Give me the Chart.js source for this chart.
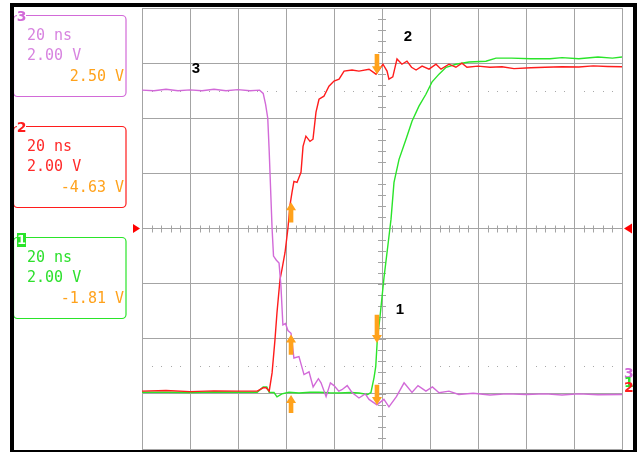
<!DOCTYPE html>
<html>
<head>
<meta charset="utf-8">
<script src="https://cdn.jsdelivr.net/npm/chart.js@4.4.0/dist/chart.umd.min.js"></script>
<style>
html,body{margin:0;padding:0;background:#fff;}
#wrap{width:637px;height:452px;position:relative;}
</style>
</head>
<body>
<div id="wrap"><canvas id="c"></canvas></div>
<script>
// Time axis (ns) and voltage (V, screen-referenced, 2 V/div)
const ch3Time = [-100,-95,-90,-85,-80,-75,-70,-65,-60,-55,-51,-49.5,-48.5,-47.6,-47,-46.4,-45.8,-45.2,-44,-42.9,-42.1,-41.3,-40.2,-39.2,-37.9,-36.7,-34.6,-32.5,-30.4,-28.7,-26.5,-25.4,-23.3,-21.5,-20,-18,-16.7,-14.5,-12.5,-9.6,-7,-5.4,-2.1,0.8,2.9,6,9.2,12.5,15,18.3,21,23.75,27.9,32,38,45,52,60,68,75,82,90,100];
const ch3Volts = [5.02,5.0,5.05,5.0,5.03,5.0,5.05,5.0,5.04,5.0,5.02,4.9,4.5,4.0,2.8,1.4,0.0,-1.0,-1.15,-1.25,-2.1,-3.5,-3.45,-3.7,-3.8,-4.7,-4.65,-5.3,-5.2,-5.75,-5.45,-5.6,-6.1,-5.6,-5.7,-5.9,-5.85,-5.7,-5.95,-6.15,-6.0,-6.2,-6.4,-6.2,-6.47,-6.1,-5.6,-5.95,-5.7,-5.9,-5.75,-5.96,-5.9,-6.02,-5.98,-6.04,-6.0,-6.02,-6.0,-6.04,-6.0,-6.03,-6.02];

const ch2Time = [-100,-90,-80,-70,-60,-52,-49.5,-48.3,-47,-45.8,-44.6,-43.75,-42.5,-41.7,-40.4,-39.2,-38.3,-37.5,-36.7,-35.4,-33.75,-32.9,-31.7,-30,-28.75,-27.5,-26.25,-24.2,-22.1,-20,-17.9,-15.8,-12.5,-9.6,-5.4,-2.5,0.4,2.1,2.9,4.5,6.25,8.3,10.4,12.3,14.2,16.7,19.6,22.5,24.6,27.9,30.8,33.3,35.4,40,45,50,55,62,68,75,82,88,94,100];
const ch2Volts = [-5.9,-5.88,-5.92,-5.89,-5.9,-5.9,-5.78,-5.78,-5.9,-5.24,-4.04,-3.05,-1.85,-1.49,-0.87,0,0.87,1.31,1.71,1.67,2.04,2.98,3.35,3.16,3.24,4.22,4.69,4.8,5.16,5.35,5.42,5.71,5.75,5.71,5.78,5.6,5.96,5.71,5.42,5.5,6.15,5.96,6.07,5.85,5.75,5.89,5.78,5.96,5.78,5.96,5.85,6.0,5.85,5.89,5.85,5.87,5.8,5.83,5.85,5.87,5.86,5.9,5.88,5.87];

const ch1Time = [-100,-90,-80,-70,-60,-52,-49.5,-48,-47,-45,-43.75,-41.7,-38.75,-34.6,-30,-26.25,-22,-17.9,-13,-9.6,-6,-4.6,-3.3,-2.6,-1.96,-0.96,0.83,2.5,3.75,5,7.1,10,12.5,15.4,18.3,20.8,23.75,26.7,30.8,36.25,43.3,47.5,54,62,70,75,82,90,96,100];
const ch1Volts = [-5.94,-5.94,-5.95,-5.93,-5.94,-5.94,-5.75,-5.75,-5.94,-5.95,-6.11,-6.0,-5.94,-5.97,-5.94,-5.94,-5.96,-5.97,-5.95,-5.97,-6.02,-5.95,-5.4,-5.0,-4.04,-3.31,-1.78,-0.58,0.33,1.67,2.51,3.24,3.89,4.44,4.87,5.31,5.6,5.85,5.96,6.04,6.07,6.18,6.18,6.16,6.16,6.2,6.16,6.22,6.18,6.22];

const xTicks = [-100,-80,-60,-40,-20,0,20,40,60,80,100];
const yTicks = [-8,-6,-4,-2,0,2,4,6,8];
const refLevels = [5,-5];

// channel info boxes
const boxNames = ['3','2','1'];
const boxTimebase = ['20 ns','20 ns','20 ns'];
const boxScale = ['2.00 V','2.00 V','2.00 V'];
const boxOffset = ['2.50 V','-4.63 V','-1.81 V'];

// cursor arrows: [time, tailV, tipV]
const arrowUpT = [-37.9,-37.9,-37.9];
const arrowUpTail = [0.22,-4.58,-6.69];
const arrowUpTip = [0.95,-3.85,-6.04];
const arrowDnT = [-2.1,-2.1,-2.1];
const arrowDnTail = [6.33,-3.13,-5.67];
const arrowDnTip = [5.6,-4.15,-6.4];

// trace labels
const labelText = ['3','2','1'];
const labelT = [-77.5,10.8,7.5];
const labelV = [5.78,6.95,-2.95];

const MAG='#d26ad8', RED='#ff1c1c', GRN='#2ae42a', ORG='#ffa21c';
const boxColors=[MAG,RED,GRN];
const boxTextColors=['#d884e0','#ff2a2a','#2ee02e'];

function pts(t,v){return t.map((x,i)=>({x:x,y:v[i]}));}

const scopePlugin = {
  id:'scope',
  beforeDraw(chart){
    const ctx=chart.ctx;
    ctx.save();
    ctx.fillStyle='#fff';
    ctx.fillRect(0,0,chart.width,chart.height);
    const tops=[15,126,237];
    for(let i=0;i<3;i++){
      const top=tops[i], left=13.5, w=112.5, h=81;
      ctx.strokeStyle=boxColors[i];
      ctx.lineWidth=1.2;
      ctx.beginPath();
      ctx.roundRect(left,top+0.5,w,h,4);
      ctx.stroke();
      ctx.font='15px "DejaVu Sans Mono"';
      ctx.textBaseline='alphabetic';
      ctx.fillStyle=boxTextColors[i];
      ctx.textAlign='left';
      ctx.fillText(boxTimebase[i],27,top+25);
      ctx.fillText(boxScale[i],27,top+45);
      ctx.fillStyle=ORG;
      ctx.textAlign='right';
      ctx.fillText(boxOffset[i],124,top+66);
      ctx.textAlign='center';
      ctx.textBaseline='middle';
      if(i===2){
        ctx.fillStyle=boxColors[i];
        ctx.fillRect(17,top-4,9,14);
        ctx.fillStyle='#fff';
        ctx.font='bold 13px "DejaVu Sans"';
        ctx.fillText(boxNames[i],21.5,top+3.5);
      } else {
        ctx.fillStyle='#fff';
        ctx.fillRect(17,top-3,9,10);
        ctx.fillStyle=boxColors[i];
        ctx.font='bold 14px "DejaVu Sans"';
        ctx.fillText(boxNames[i],21.5,top+2);
      }
    }
    ctx.restore();
  },
  beforeDatasetsDraw(chart){
    const ctx=chart.ctx, xs=chart.scales.x, ys=chart.scales.y;
    const x0=xs.getPixelForValue(0), y0=ys.getPixelForValue(0);
    ctx.save();
    ctx.strokeStyle='#a4a4a4';
    ctx.lineWidth=1;
    ctx.beginPath();
    for(let t=-100;t<=100.01;t+=4){
      const px=Math.round(xs.getPixelForValue(t))+0.5;
      ctx.moveTo(px,y0-3);ctx.lineTo(px,y0+4);
    }
    for(let v=-8;v<=8.01;v+=0.4){
      const py=Math.round(ys.getPixelForValue(v))+0.5;
      ctx.moveTo(x0-4,py);ctx.lineTo(x0+4,py);
    }
    ctx.stroke();
    ctx.fillStyle='#a8a8a8';
    refLevels.forEach(lv=>{
      const py=Math.round(ys.getPixelForValue(lv));
      for(let t=-100;t<=100.01;t+=4){
        if(Math.abs(t%20)<0.01) continue;
        const px=Math.round(xs.getPixelForValue(t));
        ctx.fillRect(px,py,1,1);
      }
    });
    ctx.restore();
  },
  afterDraw(chart){
    const ctx=chart.ctx, xs=chart.scales.x, ys=chart.scales.y, ca=chart.chartArea;
    const y0=ys.getPixelForValue(0);
    ctx.save();
    ctx.fillStyle=ORG;
    function arrow(t,tail,tip){
      const px=xs.getPixelForValue(t);
      const pTail=ys.getPixelForValue(tail), pTip=ys.getPixelForValue(tip);
      const dir=pTip<pTail?-1:1;
      const headLen=8;
      const headBase=pTip-dir*headLen;
      ctx.beginPath();
      ctx.moveTo(px-2.3,pTail);ctx.lineTo(px-2.3,headBase);ctx.lineTo(px-5,headBase);
      ctx.lineTo(px,pTip);ctx.lineTo(px+5,headBase);ctx.lineTo(px+2.3,headBase);
      ctx.lineTo(px+2.3,pTail);ctx.closePath();ctx.fill();
    }
    for(let i=0;i<arrowUpT.length;i++) arrow(arrowUpT[i],arrowUpTail[i],arrowUpTip[i]);
    for(let i=0;i<arrowDnT.length;i++) arrow(arrowDnT[i],arrowDnTail[i],arrowDnTip[i]);
    ctx.fillStyle='#000';
    ctx.font='bold 15px "Liberation Sans"';
    ctx.textAlign='center';ctx.textBaseline='middle';
    for(let i=0;i<labelText.length;i++){
      ctx.fillText(labelText[i],xs.getPixelForValue(labelT[i]),ys.getPixelForValue(labelV[i]));
    }
    ctx.fillStyle='#ff0000';
    ctx.beginPath();
    ctx.moveTo(ca.left-2,y0);ctx.lineTo(ca.left-9,y0-4.5);ctx.lineTo(ca.left-9,y0+4.5);ctx.closePath();ctx.fill();
    ctx.beginPath();
    ctx.moveTo(ca.right+2,y0);ctx.lineTo(ca.right+10,y0-5);ctx.lineTo(ca.right+10,y0+5);ctx.closePath();ctx.fill();
    const gy=ys.getPixelForValue(-5.6);
    ctx.font='bold 14px "DejaVu Sans"';
    ctx.textAlign='left';
    ctx.fillStyle=MAG;ctx.fillText('3',ca.right+2,gy-8);
    ctx.fillStyle=GRN;ctx.fillText('1',ca.right+2,gy+1);
    ctx.fillStyle=RED;ctx.fillText('2',ca.right+2,gy+6);
    ctx.fillStyle='#000';
    ctx.fillRect(10,3,4,449);
    ctx.fillRect(10,3,627,4);
    ctx.fillRect(633,3,4,449);
    ctx.fillRect(10,450,627,2);
    ctx.restore();
  }
};

new Chart(document.getElementById('c'),{
  type:'line',
  data:{datasets:[
    {label:'3',data:pts(ch3Time,ch3Volts),borderColor:MAG,borderWidth:1.4,pointRadius:0,tension:0,fill:false},
    {label:'2',data:pts(ch2Time,ch2Volts),borderColor:RED,borderWidth:1.4,pointRadius:0,tension:0,fill:false},
    {label:'1',data:pts(ch1Time,ch1Volts),borderColor:GRN,borderWidth:1.4,pointRadius:0,tension:0,fill:false}
  ]},
  options:{
    responsive:true,maintainAspectRatio:false,animation:false,
    layout:{padding:{left:142,top:8,right:15,bottom:3}},
    plugins:{legend:{display:false},tooltip:{enabled:false}},
    scales:{
      x:{type:'linear',min:-100,max:100,
        afterBuildTicks(s){s.ticks=xTicks.map(v=>({value:v}));},
        ticks:{display:false},
        grid:{color:'#a4a4a4',lineWidth:1,drawTicks:false},
        border:{display:true,color:'#a4a4a4'}},
      y:{type:'linear',min:-8,max:8,
        afterBuildTicks(s){s.ticks=yTicks.map(v=>({value:v}));},
        ticks:{display:false},
        grid:{color:'#a4a4a4',lineWidth:1,drawTicks:false},
        border:{display:true,color:'#a4a4a4'}}
    }
  },
  plugins:[scopePlugin]
});
</script>
</body>
</html>
